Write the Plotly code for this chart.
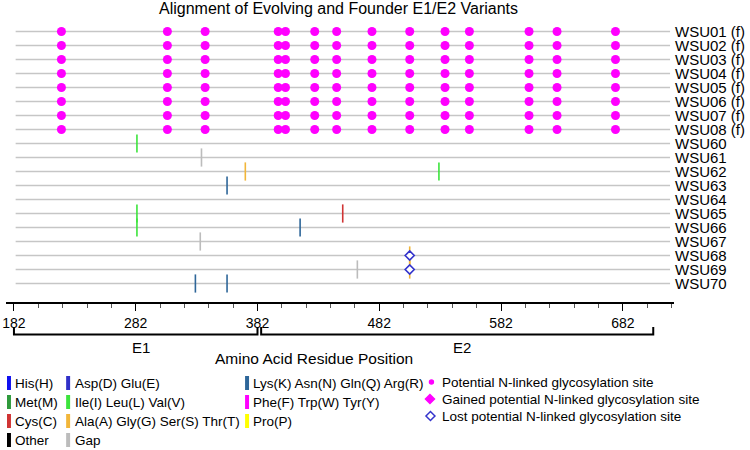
import plotly.graph_objects as go

# ---------------- data ----------------
rows = ["WSU01 (f)", "WSU02 (f)", "WSU03 (f)", "WSU04 (f)", "WSU05 (f)", "WSU06 (f)",
        "WSU07 (f)", "WSU08 (f)", "WSU60", "WSU61", "WSU62", "WSU63", "WSU64", "WSU65",
        "WSU66", "WSU67", "WSU68", "WSU69", "WSU70"]
founder_rows = rows[:8]
glyco_pos = [221, 308, 339, 399, 405, 429, 447, 476, 507, 536, 556, 605, 628, 676]

residue_classes = ["His(H)", "Met(M)", "Cys(C)", "Other",
                   "Asp(D) Glu(E)", "Ile(I) Leu(L) Val(V)", "Ala(A) Gly(G) Ser(S) Thr(T)", "Gap",
                   "Lys(K) Asn(N) Gln(Q) Arg(R)", "Phe(F) Trp(W) Tyr(Y)", "Pro(P)"]
residue_colors = ["#1010f0", "#2f9a3c", "#d03434", "#000000",
                  "#3030c8", "#3ce43c", "#f2b63a", "#bcbcbc",
                  "#2e6699", "#ff00ff", "#ffff00"]

var_rows = ["WSU60", "WSU61", "WSU62", "WSU62", "WSU63", "WSU65", "WSU65", "WSU66",
            "WSU66", "WSU67", "WSU68", "WSU69", "WSU69", "WSU70", "WSU70"]
var_pos = [283, 336, 372, 531, 357, 283, 452, 283, 417, 335, 507, 507, 464, 331, 357]
var_class = ["Ile(I) Leu(L) Val(V)", "Gap", "Ala(A) Gly(G) Ser(S) Thr(T)", "Ile(I) Leu(L) Val(V)",
             "Lys(K) Asn(N) Gln(Q) Arg(R)", "Ile(I) Leu(L) Val(V)", "Cys(C)", "Ile(I) Leu(L) Val(V)",
             "Lys(K) Asn(N) Gln(Q) Arg(R)", "Gap", "Ala(A) Gly(G) Ser(S) Thr(T)",
             "Ala(A) Gly(G) Ser(S) Thr(T)", "Gap", "Lys(K) Asn(N) Gln(Q) Arg(R)",
             "Lys(K) Asn(N) Gln(Q) Arg(R)"]

lost_rows = ["WSU68", "WSU69"]
lost_pos = [507, 507]

glyc_legend = ["Potential N-linked glycosylation site",
               "Gained potential N-linked glycosylation site",
               "Lost potential N-linked glycosylation site"]

regions = ["E1", "E2"]
region_start = [182, 385]
region_end = [382, 707]
x_ticks = [182, 282, 382, 482, 582, 682]
line_start, line_end = 183.4, 720.8

# ---------------- layout helpers ----------------
W, H = 750, 450
ML, MR, MT, MB = 2, 76, 20, 148
PW, PH = W - ML - MR, H - MT - MB
FONT = "Liberation Sans, Arial, sans-serif"


def px_x(p):
    return (p - ML) / PW


def px_y(p):
    return (H - MB - p) / PH


row_idx = {r: i for i, r in enumerate(rows)}
MAGENTA = "#ff00ff"
LOST_BLUE = "#3333cc"

fig = go.Figure()

# variant marks, one trace per residue class
for cls, col in zip(residue_classes, residue_colors):
    xs = [p for p, c in zip(var_pos, var_class) if c == cls]
    ys = [row_idx[r] for r, c in zip(var_rows, var_class) if c == cls]
    if not xs:
        continue
    fig.add_trace(go.Scatter(
        x=xs, y=ys, mode="markers", name=cls, showlegend=False,
        marker=dict(symbol="line-ns", size=13, line=dict(width=1.6, color=col), color=col),
        hoverinfo="skip"))

# founder glycosylation sites
gx, gy = [], []
for r in founder_rows:
    for p in glyco_pos:
        gx.append(p)
        gy.append(row_idx[r])
fig.add_trace(go.Scatter(x=gx, y=gy, mode="markers", showlegend=False,
                         marker=dict(symbol="circle", size=9, color=MAGENTA, line=dict(width=0))))

# lost glycosylation sites
fig.add_trace(go.Scatter(x=lost_pos, y=[row_idx[r] for r in lost_rows], mode="markers",
                         showlegend=False,
                         marker=dict(symbol="diamond", size=7, color="white",
                                     line=dict(width=1.6, color=LOST_BLUE))))

shapes = []
# row lines
for r in rows:
    shapes.append(dict(type="line", xref="x", yref="y", x0=line_start, x1=line_end,
                       y0=row_idx[r], y1=row_idx[r], layer="below",
                       line=dict(color="#c6c6c6", width=1.5)))

# region brackets
for s, e in zip(region_start, region_end):
    y_top, y_bot = px_y(327), px_y(334.5)
    shapes.append(dict(type="path", xref="x", yref="paper",
                       path=f"M {s},{y_top} L {s},{y_bot} L {e},{y_bot} L {e},{y_top}",
                       line=dict(color="black", width=2)))

annotations = []
# title
annotations.append(dict(text="Alignment of Evolving and Founder E1/E2 Variants",
                        xref="paper", yref="paper", x=px_x(336), y=px_y(8.5),
                        xanchor="center", yanchor="middle", showarrow=False,
                        font=dict(size=16, color="black", family=FONT)))
# region labels
for name, s, e in zip(regions, region_start, region_end):
    annotations.append(dict(text=name, xref="x", yref="paper", x=(s + e) / 2, y=px_y(347),
                            xshift=5, xanchor="center", yanchor="middle", showarrow=False,
                            font=dict(size=15, color="black", family=FONT)))
# axis title
annotations.append(dict(text="Amino Acid Residue Position", xref="paper", yref="paper",
                        x=px_x(312), y=px_y(358), xanchor="center", yanchor="middle",
                        showarrow=False, font=dict(size=15.5, color="black", family=FONT)))

# legend: residue classes in three columns
col_sw_x = [3, 62.5, 242.5]
col_tx_x = [9, 69, 248]
row_y = [383, 402, 421, 440]
col_of = [0, 0, 0, 0, 1, 1, 1, 1, 2, 2, 2]
row_of = [0, 1, 2, 3, 0, 1, 2, 3, 0, 1, 2]
for cls, col, c, rr in zip(residue_classes, residue_colors, col_of, row_of):
    yc = row_y[rr]
    shapes.append(dict(type="rect", xref="paper", yref="paper",
                       x0=px_x(col_sw_x[c]), x1=px_x(col_sw_x[c] + 4),
                       y0=px_y(yc + 7), y1=px_y(yc - 7),
                       fillcolor=col, line=dict(width=0)))
    annotations.append(dict(text=cls, xref="paper", yref="paper", x=px_x(col_tx_x[c]),
                            y=px_y(yc), xanchor="left", yanchor="middle", showarrow=False,
                            font=dict(size=13.5, color="black", family=FONT)))

# legend: glycosylation markers
g_y = [382, 399, 416]
g_sym_x = [430, 428.5, 429]
for i, (txt, yc, sx) in enumerate(zip(glyc_legend, g_y, g_sym_x)):
    if i == 0:
        shapes.append(dict(type="circle", xref="paper", yref="paper",
                           xsizemode="pixel", ysizemode="pixel",
                           xanchor=px_x(sx), yanchor=px_y(yc),
                           x0=-2.7, x1=2.7, y0=-2.7, y1=2.7,
                           fillcolor=MAGENTA, line=dict(width=0)))
    else:
        fill = MAGENTA if i == 1 else "white"
        lc = MAGENTA if i == 1 else LOST_BLUE
        shapes.append(dict(type="path", xref="paper", yref="paper",
                           xsizemode="pixel", ysizemode="pixel",
                           xanchor=px_x(sx), yanchor=px_y(yc),
                           path="M -4.5,0 L 0,4.5 L 4.5,0 L 0,-4.5 Z",
                           fillcolor=fill, line=dict(width=1.5, color=lc)))
    annotations.append(dict(text=txt, xref="paper", yref="paper", x=px_x(438.5),
                            y=px_y(yc), xanchor="left", yanchor="middle", showarrow=False,
                            font=dict(size=13.5, color="black", family=FONT)))

x_lo = 182 - (10 - ML) / 1.225
x_hi = x_lo + PW / 1.225
y_top_val = -(31.5 - MT) / 14
y_bot_val = y_top_val + PH / 14

fig.update_layout(
    width=W, height=H,
    margin=dict(l=ML, r=MR, t=MT, b=MB, pad=0),
    paper_bgcolor="white", plot_bgcolor="white",
    font=dict(family=FONT, color="black"),
    showlegend=False, hovermode=False,
    shapes=shapes, annotations=annotations,
    xaxis=dict(range=[x_lo, x_hi], tickvals=x_ticks, ticktext=[str(v) for v in x_ticks],
               showgrid=False, zeroline=False, showline=True, linecolor="black", linewidth=2,
               ticks="outside", ticklen=7, tickwidth=1, tickcolor="black",
               ticklabeloverflow="allow",
               tickfont=dict(size=14, family=FONT, color="black"),
               minor=dict(dtick=20, tick0=182, ticks="outside", ticklen=4, tickcolor="#555555",
                          tickwidth=1, showgrid=False)),
    yaxis=dict(range=[y_bot_val, y_top_val], tickvals=list(range(len(rows))), ticktext=rows,
               side="right", showgrid=False, zeroline=False, showline=False, ticks="",
               tickfont=dict(size=15, family=FONT, color="black")),
)

fig.write_html("out.html", config={"displayModeBar": False, "staticPlot": True},
               post_script="document.body.style.margin='0px';document.body.style.overflow='hidden';")
